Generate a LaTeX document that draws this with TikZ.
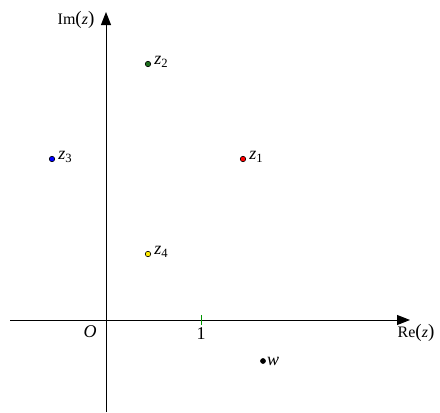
\documentclass[tikz,border=0pt]{standalone}
\usepackage{fontspec}
\setmainfont{Liberation Serif}
\usetikzlibrary{arrows.meta}
\definecolor{dgreen}{RGB}{30,110,30}
\definecolor{tgreen}{RGB}{0,150,0}
\definecolor{pyellow}{RGB}{255,235,0}
\tikzset{
  axis/.style={line width=1pt,-{Triangle[length=13pt,width=10pt]}},
  pt/.style={circle,draw=black,line width=0.6pt,inner sep=0pt,minimum size=5.5pt},
  lbl/.style={anchor=west,inner sep=1pt,font=\fontsize{18}{20}\selectfont},
  axlbl/.style={inner sep=0pt,font=\fontsize{16}{18}\selectfont}
}
\begin{document}
\begin{tikzpicture}[x=1pt,y=-1pt]
\useasboundingbox (0,0) rectangle (440,413);
\coordinate (xs) at (10,320);
\coordinate (xe) at (410,320);
\coordinate (ys) at (106,412);
\coordinate (ye) at (106,12);
\draw[axis] (xs) -- (xe);
\draw[axis] (ys) -- (ye);
\draw[tgreen,line width=1pt] (201,315) coordinate (t1) -- (201,325) coordinate (t2);
\node[axlbl] (re) at (416,333) {Re{\fontsize{19}{20}\selectfont(}\textit{z}{\fontsize{19}{20}\selectfont)}};
\node[axlbl] (im) at (76,20) {Im{\fontsize{19}{20}\selectfont(}\textit{z}{\fontsize{19}{20}\selectfont)}};
\node[axlbl,font=\fontsize{18}{20}\selectfont\itshape] (o) at (90,332) {O};
\node[axlbl,font=\fontsize{18}{20}\selectfont] (one) at (201,334) {1};
\node[pt,fill=red] (z1) at (243,159) {};
\node[pt,fill=dgreen] (z2) at (148,64) {};
\node[pt,fill=blue] (z3) at (52,159) {};
\node[pt,fill=pyellow] (z4) at (148,254) {};
\node[pt,fill=black,minimum size=5pt] (w) at (263,361) {};
\node[lbl] (l1) at ([xshift=2pt,yshift=2pt]z1.east) {\textit{z}\textsubscript{1}};
\node[lbl] (l2) at ([xshift=2pt,yshift=2pt]z2.east) {\textit{z}\textsubscript{2}};
\node[lbl] (l3) at ([xshift=2pt,yshift=2pt]z3.east) {\textit{z}\textsubscript{3}};
\node[lbl] (l4) at ([xshift=2pt,yshift=2pt]z4.east) {\textit{z}\textsubscript{4}};
\node[lbl] (lw) at ([xshift=0pt,yshift=0pt]w.east) {\textit{w}};
\end{tikzpicture}
\end{document}
